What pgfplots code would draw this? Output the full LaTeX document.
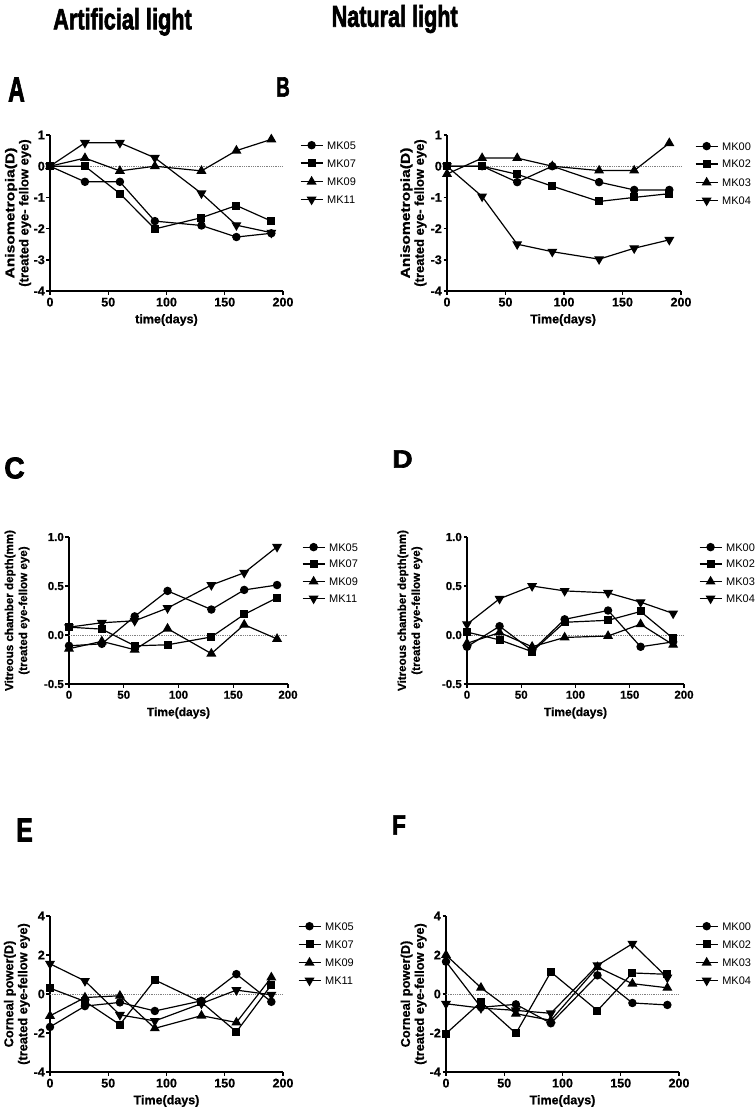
\documentclass[border=0pt]{standalone}
\usepackage{fontspec}
\setmainfont{Liberation Sans}[BoldFeatures={FakeBold=0.8}]
\newfontfamily\heavyfont{Liberation Sans}[BoldFeatures={FakeBold=2.5}]
\usepackage{graphicx}
\usepackage{pgfplots}
\pgfplotsset{compat=1.18}

\newcommand{\fs}[1]{\fontsize{#1bp}{#1bp}\selectfont}

\pgfplotsset{
 prism/.style={
  scale only axis,
  axis x line*=bottom, axis y line*=left,
  axis line style={line width=1.4bp, black, -},
  xmin=0, xmax=200, xtick={0,50,100,150,200},
  tick align=outside, major tick length=3.5bp,
  every tick/.style={line width=1.4bp, black},
  tick label style={font=\fs{12.5}\bfseries},
  /pgf/number format/assume math mode=true,
  xticklabel style={inner sep=1bp, yshift=-2bp},
  yticklabel style={inner sep=1.5bp},
  clip=false,
  legend cell align=left,
  legend style={draw=none, fill=none, font=\fs{11}, inner sep=0pt, outer sep=0pt,
    anchor=north west, row sep=10bp,
    nodes={inner sep=0pt, text height=7.9bp, text depth=0bp},
    /tikz/every odd column/.append style={column sep=4bp}},
  legend image code/.code={\draw[mark repeat=2, mark phase=2, ##1] plot coordinates {(0bp,0bp) (11bp,0bp) (22bp,0bp)};},
  xlabel style={anchor=center},
  ylabel style={anchor=center, align=center},
 },
 sA/.style={black, line width=1.2bp, mark=*, mark size=3.6bp, mark options={solid, fill=black}},
 sB/.style={black, line width=1.2bp, mark=square*, mark size=3.4bp, mark options={solid, fill=black}},
 sC/.style={black, line width=1.2bp, mark=triangle*, mark size=4.6bp, mark options={solid, fill=black}},
 sD/.style={black, line width=1.2bp, mark=triangle*, mark size=4.6bp, mark options={solid, fill=black, rotate=180}},
 zl/.style={forget plot, gray, densely dotted, line width=0.8bp, mark=none},
}

\begin{document}
\begin{tikzpicture}
\useasboundingbox (0,0) rectangle (756bp,-1111bp);

% headers
\node[anchor=base, inner sep=0pt] at (122.5bp,-29.3bp) {\scalebox{0.74}[1]{\fs{29.3}\heavyfont\bfseries Artificial light}};
\node[anchor=base, inner sep=0pt] at (394.7bp,-26.7bp) {\scalebox{0.72}[1]{\fs{30}\heavyfont\bfseries Natural light}};

% panel letters
\node[inner sep=0pt] at (16.5bp,-89.5bp) {\scalebox{0.66}[1]{\fs{35}\heavyfont\bfseries A}};
\node[inner sep=0pt] at (283bp,-87bp) {\scalebox{0.67}[1]{\fs{28}\heavyfont\bfseries B}};
\node[inner sep=0pt] at (14.5bp,-468bp) {\scalebox{0.94}[1]{\fs{30}\heavyfont\bfseries C}};
\node[inner sep=0pt] at (402.5bp,-459bp) {\scalebox{1.12}[1]{\fs{25}\heavyfont\bfseries D}};
\node[inner sep=0pt] at (24.5bp,-830bp) {\scalebox{0.74}[1]{\fs{33.5}\heavyfont\bfseries E}};
\node[inner sep=0pt] at (399bp,-825bp) {\scalebox{0.8}[1]{\fs{28}\heavyfont\bfseries F}};

% ---------------- A
\begin{axis}[prism, at={(50bp,-291bp)}, anchor=south west, width=233bp, height=156bp,
  ymin=-4, ymax=1, ytick={-4,-3,-2,-1,0,1},
  xlabel={time(days)}, xlabel style={at={(axis description cs:0.5,-0.186)}, font=\fs{12.5}\bfseries},
  ylabel={\scalebox{1.2}[1]{Anisometropia(D)}\\(treated eye- fellow eye)},
  ylabel style={at={(axis description cs:-0.137,0.5)}, font=\fontsize{13bp}{14bp}\selectfont\bfseries},
  legend style={at={(axis description cs:1.073,0.960)}}]
\addplot[zl] coordinates {(0,0) (200,0)};
\addplot[sA] coordinates {(0,0) (30,-0.5) (60,-0.5) (90,-1.76) (130,-1.9) (160,-2.27) (190,-2.15)};
\addplot[sB] coordinates {(0,0) (30,0) (60,-0.88) (90,-2.01) (130,-1.65) (160,-1.26) (190,-1.76)};
\addplot[sC] coordinates {(0,0) (30,0.26) (60,-0.15) (90,0) (130,-0.15) (160,0.5) (190,0.86)};
\addplot[sD] coordinates {(0,0) (30,0.75) (60,0.75) (90,0.27) (130,-0.87) (160,-1.89) (190,-2.13)};
\legend{MK05,MK07,MK09,MK11}
\end{axis}

% ---------------- B
\begin{axis}[prism, at={(447bp,-291bp)}, anchor=south west, width=234bp, height=156bp,
  ymin=-4, ymax=1, ytick={-4,-3,-2,-1,0,1},
  xlabel={Time(days)}, xlabel style={at={(axis description cs:0.496,-0.186)}, font=\fs{12.5}\bfseries},
  ylabel={\scalebox{1.2}[1]{Anisometropia(D)}\\(treated eye- fellow eye)},
  ylabel style={at={(axis description cs:-0.143,0.5)}, font=\fontsize{13bp}{14bp}\selectfont\bfseries},
  legend style={at={(axis description cs:1.060,0.954)}}]
\addplot[zl] coordinates {(0,0) (200,0)};
\addplot[sA] coordinates {(0,0) (30,0) (60,-0.51) (90,0) (130,-0.51) (160,-0.76) (190,-0.76)};
\addplot[sB] coordinates {(0,0) (30,0) (60,-0.26) (90,-0.64) (130,-1.13) (160,-1.0) (190,-0.88)};
\addplot[sC] coordinates {(0,-0.25) (30,0.26) (60,0.26) (90,0) (130,-0.14) (160,-0.14) (190,0.74)};
\addplot[sD] coordinates {(0,0) (30,-0.97) (60,-2.5) (90,-2.74) (130,-2.98) (160,-2.63) (190,-2.36)};
\legend{MK00,MK02,MK03,MK04}
\end{axis}

% ---------------- C
\begin{axis}[prism, at={(69bp,-684bp)}, anchor=south west, width=219bp, height=147bp,
  ymin=-0.5, ymax=1, ytick={-0.5,0,0.5,1},
  tick label style={font=\fs{11.5}\bfseries},
  yticklabel style={/pgf/number format/.cd, fixed, fixed zerofill, precision=1},
  xlabel={Time(days)}, xlabel style={at={(axis description cs:0.5,-0.197)}, font=\fs{12}\bfseries},
  ylabel={Vitreous chamber depth(mm)\\(treated eye-fellow eye)},
  ylabel style={at={(axis description cs:-0.237,0.5)}, font=\fontsize{11.6bp}{14bp}\selectfont\bfseries},
  legend style={at={(axis description cs:1.064,0.958)}, row sep=9bp}]
\addplot[zl] coordinates {(0,0) (200,0)};
\addplot[sA] coordinates {(0,-0.11) (30,-0.09) (60,0.19) (90,0.45) (130,0.26) (160,0.46) (190,0.51)};
\addplot[sB] coordinates {(0,0.08) (30,0.06) (60,-0.11) (90,-0.10) (130,-0.02) (160,0.21) (190,0.38)};
\addplot[sC] coordinates {(0,-0.14) (30,-0.065) (60,-0.15) (90,0.065) (130,-0.19) (160,0.105) (190,-0.04)};
\addplot[sD] coordinates {(0,0.08) (30,0.125) (60,0.145) (90,0.275) (130,0.51) (160,0.635) (190,0.90)};
\legend{MK05,MK07,MK09,MK11}
\end{axis}

% ---------------- D
\begin{axis}[prism, at={(467bp,-684bp)}, anchor=south west, width=217bp, height=147bp,
  ymin=-0.5, ymax=1, ytick={-0.5,0,0.5,1},
  tick label style={font=\fs{11.5}\bfseries},
  yticklabel style={/pgf/number format/.cd, fixed, fixed zerofill, precision=1},
  xlabel={Time(days)}, xlabel style={at={(axis description cs:0.5,-0.197)}, font=\fs{12}\bfseries},
  ylabel={Vitreous chamber depth(mm)\\(treated eye-fellow eye)},
  ylabel style={at={(axis description cs:-0.263,0.5)}, font=\fontsize{11.6bp}{14bp}\selectfont\bfseries},
  legend style={at={(axis description cs:1.069,0.958)}, row sep=9bp}]
\addplot[zl] coordinates {(0,0) (200,0)};
\addplot[sA] coordinates {(0,-0.12) (30,0.09) (60,-0.16) (90,0.16) (130,0.25) (160,-0.12) (190,-0.07)};
\addplot[sB] coordinates {(0,0.03) (30,-0.05) (60,-0.17) (90,0.13) (130,0.15) (160,0.24) (190,-0.035)};
\addplot[sC] coordinates {(0,-0.085) (30,0.025) (60,-0.12) (90,-0.025) (130,-0.01) (160,0.11) (190,-0.10)};
\addplot[sD] coordinates {(0,0.11) (30,0.37) (60,0.5) (90,0.45) (130,0.43) (160,0.335) (190,0.22)};
\legend{MK00,MK02,MK03,MK04}
\end{axis}

% ---------------- E
\begin{axis}[prism, at={(50bp,-1072bp)}, anchor=south west, width=233bp, height=156bp,
  ymin=-4, ymax=4, ytick={-4,-2,0,2,4},
  xlabel={Time(days)}, xlabel style={at={(axis description cs:0.5,-0.186)}, font=\fs{12.5}\bfseries},
  ylabel={Corneal power(D)\\(treated eye-fellow eye)},
  ylabel style={at={(axis description cs:-0.142,0.5)}, font=\fontsize{12.8bp}{14bp}\selectfont\bfseries},
  legend style={at={(axis description cs:1.064,0.960)}}]
\addplot[zl] coordinates {(0,0) (200,0)};
\addplot[sA] coordinates {(0,-1.69) (30,-0.62) (60,-0.43) (90,-0.87) (130,-0.35) (160,1.02) (190,-0.40)};
\addplot[sB] coordinates {(0,0.3) (30,-0.38) (60,-1.57) (90,0.72) (130,-0.42) (160,-1.94) (190,0.47)};
\addplot[sC] coordinates {(0,-1.12) (30,-0.18) (60,-0.09) (90,-1.76) (130,-1.11) (160,-1.46) (190,0.85)};
\addplot[sD] coordinates {(0,1.55) (30,0.67) (60,-1.07) (90,-1.38) (130,-0.49) (160,0.2) (190,-0.04)};
\legend{MK05,MK07,MK09,MK11}
\end{axis}

% ---------------- F
\begin{axis}[prism, at={(446bp,-1072bp)}, anchor=south west, width=233bp, height=156bp,
  ymin=-4, ymax=4, ytick={-4,-2,0,2,4},
  xlabel={Time(days)}, xlabel style={at={(axis description cs:0.5,-0.186)}, font=\fs{12.5}\bfseries},
  ylabel={Corneal power(D)\\(treated eye-fellow eye)},
  ylabel style={at={(axis description cs:-0.139,0.5)}, font=\fontsize{12.8bp}{14bp}\selectfont\bfseries},
  legend style={at={(axis description cs:1.069,0.960)}}]
\addplot[zl] coordinates {(0,0) (200,0)};
\addplot[sA] coordinates {(0,1.66) (30,-0.68) (60,-0.53) (90,-1.5) (130,0.96) (160,-0.46) (190,-0.56)};
\addplot[sB] coordinates {(0,-2.03) (30,-0.41) (60,-2.02) (90,1.13) (130,-0.85) (160,1.08) (190,1.01)};
\addplot[sC] coordinates {(0,2.0) (30,0.32) (60,-1.01) (90,-1.35) (130,1.38) (160,0.53) (190,0.32)};
\addplot[sD] coordinates {(0,-0.5) (30,-0.72) (60,-0.84) (90,-0.99) (130,1.47) (160,2.58) (190,0.84)};
\legend{MK00,MK02,MK03,MK04}
\end{axis}
\end{tikzpicture}
\end{document}
